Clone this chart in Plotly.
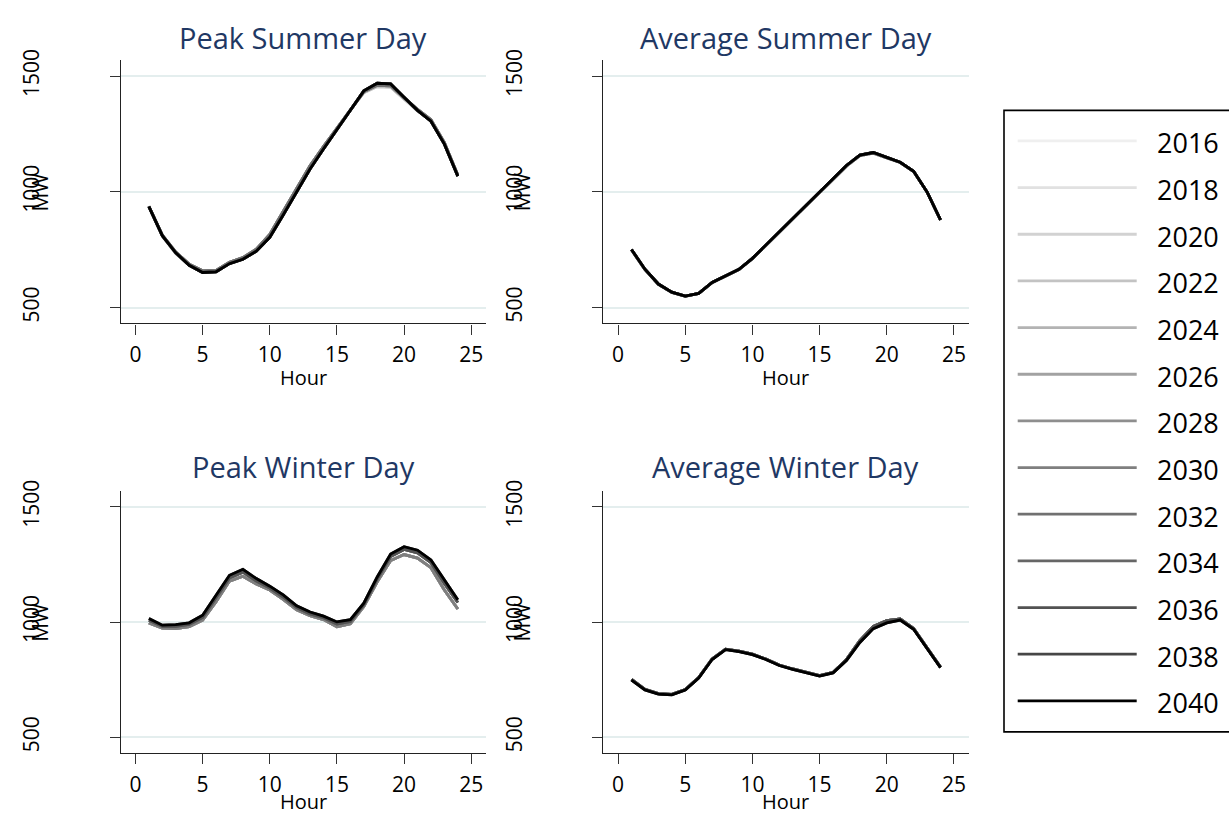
import plotly.graph_objects as go

# ---- data -------------------------------------------------------------
hours = [1, 2, 3, 4, 5, 6, 7, 8, 9, 10, 11, 12,
         13, 14, 15, 16, 17, 18, 19, 20, 21, 22, 23, 24]

years = [2016, 2018, 2020, 2022, 2024, 2026, 2028,
         2030, 2032, 2034, 2036, 2038, 2040]

year_colors = ["#efefef", "#e1e1e1", "#d2d2d2", "#c3c3c3", "#b3b3b3",
               "#a2a2a2", "#8e8e8e", "#7f7f7f", "#707070", "#666666",
               "#525252", "#464646", "#000000"]

panel_titles = ["Peak Summer Day", "Average Summer Day",
                "Peak Winter Day", "Average Winter Day"]

y_ticks = [500, 1000, 1500]
x_ticks = [0, 5, 10, 15, 20, 25]

# Peak summer day load (MW)
peak_summer_early = [934, 808, 734, 684, 655, 658, 693, 713, 750, 812, 910, 1012,
                     1110, 1193, 1273, 1354, 1428, 1455, 1452, 1402, 1350, 1306, 1208, 1068]
peak_summer_mid = [938, 813, 740, 688, 659, 661, 696, 716, 753, 816, 916, 1016,
                   1113, 1196, 1276, 1357, 1432, 1460, 1458, 1406, 1356, 1312, 1213, 1073]
peak_summer_late = [936, 811, 737, 683, 652, 655, 690, 709, 744, 804, 900, 1000,
                    1099, 1185, 1267, 1352, 1436, 1469, 1466, 1409, 1352, 1305, 1206, 1068]

# Average summer day load (MW)
avg_summer_early = [749, 664, 601, 566, 549, 561, 608, 637, 665, 712, 769, 826,
                    881, 939, 996, 1052, 1111, 1156, 1167, 1147, 1127, 1088, 999, 878]
avg_summer_late = [751, 666, 602, 567, 550, 562, 609, 638, 666, 713, 770, 827,
                   882, 940, 997, 1054, 1114, 1159, 1170, 1149, 1128, 1089, 1000, 879]

# Peak winter day load (MW)
peak_winter_early = [997, 974, 972, 980, 1009, 1089, 1178, 1199, 1165, 1139, 1099, 1054,
                     1028, 1011, 980, 993, 1068, 1175, 1267, 1293, 1278, 1236, 1139, 1057]
peak_winter_mid = [1008, 982, 982, 990, 1020, 1105, 1192, 1217, 1178, 1148, 1109, 1063,
                   1036, 1019, 992, 1003, 1076, 1188, 1285, 1315, 1300, 1258, 1168, 1085]
peak_winter_late = [1016, 987, 989, 997, 1030, 1118, 1203, 1229, 1189, 1156, 1118, 1071,
                    1044, 1026, 1001, 1011, 1082, 1196, 1295, 1327, 1312, 1270, 1182, 1097]

# Average winter day load (MW)
avg_winter_early = [752, 709, 690, 687, 708, 760, 840, 883, 874, 861, 840, 814,
                    797, 783, 768, 782, 838, 920, 982, 1007, 1014, 972, 888, 805]
avg_winter_late = [749, 706, 688, 685, 706, 758, 838, 881, 872, 859, 838, 812,
                   795, 781, 766, 780, 834, 912, 972, 997, 1009, 969, 886, 803]

# which profile each year follows, per panel
peak_summer_by_year = ["early", "early", "early", "early", "mid", "mid", "mid",
                       "mid", "mid", "late", "late", "late", "late"]
avg_summer_by_year = ["early", "early", "early", "early", "early", "early", "early",
                      "late", "late", "late", "late", "late", "late"]
peak_winter_by_year = ["early", "early", "early", "early", "early", "early", "early",
                       "early", "mid", "mid", "mid", "late", "late"]
avg_winter_by_year = ["early", "early", "early", "early", "early", "early", "early",
                      "early", "early", "early", "early", "late", "late"]

panel_profiles = [
    ({"early": peak_summer_early, "mid": peak_summer_mid, "late": peak_summer_late}, peak_summer_by_year),
    ({"early": avg_summer_early, "late": avg_summer_late}, avg_summer_by_year),
    ({"early": peak_winter_early, "mid": peak_winter_mid, "late": peak_winter_late}, peak_winter_by_year),
    ({"early": avg_winter_early, "late": avg_winter_late}, avg_winter_by_year),
]

# ---- layout geometry (pixels) -----------------------------------------
W, H = 1229, 816
FONT = "Open Sans"
TITLE_COLOR = "#1f3864"
GRID_COLOR = "#e4eeee"

# (left, right, top, bottom) of each plotting area
boxes = [
    (120.7, 486.0, 50.0, 316.7),
    (603.3, 968.7, 50.0, 316.7),
    (120.7, 486.0, 486.7, 752.3),
    (603.3, 968.7, 486.7, 752.3),
]
title_y = [26.7, 26.7, 461.7, 461.7]


def px(x):
    return x / W


def py(y):
    return 1 - y / H


fig = go.Figure()
annotations = []
shapes = []

for p, ((profiles, by_year), (l, r, t, b)) in enumerate(zip(panel_profiles, boxes)):
    xa = "x" if p == 0 else f"x{p + 1}"
    ya = "y" if p == 0 else f"y{p + 1}"
    for yr, col, key in zip(years, year_colors, by_year):
        fig.add_trace(go.Scatter(
            x=hours, y=profiles[key], mode="lines",
            line=dict(color=col, width=2.8),
            name=str(yr), showlegend=False,
            xaxis=xa, yaxis=ya,
        ))

    axis_common = dict(
        showline=True, linecolor="#222222", linewidth=1.3,
        ticks="outside", ticklen=10, tickwidth=1.3, tickcolor="#333333",
        tickfont=dict(family=FONT, size=21, color="#000000"),
        zeroline=False,
    )
    fig.layout[f"xaxis{'' if p == 0 else p + 1}"] = dict(
        domain=[px(l), px(r)], anchor=ya, range=[-1.1, 26.1],
        tickvals=x_ticks, showgrid=False, ticklabelstandoff=2,
        **axis_common,
    )
    fig.layout[f"yaxis{'' if p == 0 else p + 1}"] = dict(
        domain=[py(b), py(t)], anchor=xa, range=[432, 1568],
        tickvals=y_ticks, tickangle=-90, ticklabelstandoff=62,
        showgrid=True, gridcolor=GRID_COLOR, gridwidth=2,
        **axis_common,
    )

    cx = (l + r) / 2
    annotations.append(dict(
        text=panel_titles[p], xref="paper", yref="paper",
        x=px(cx), y=py(title_y[p]), xanchor="center", yanchor="middle",
        showarrow=False, font=dict(family=FONT, size=29, color=TITLE_COLOR),
    ))
    # x-axis title: lower row sits flush with the bottom edge
    if p < 2:
        hour_pos = dict(y=py(b + 55), yanchor="middle")
    else:
        hour_pos = dict(y=0, yanchor="bottom")
    annotations.append(dict(
        text="Hour", xref="paper", yref="paper",
        x=px(cx), xanchor="center", borderpad=0,
        showarrow=False, font=dict(family=FONT, size=20, color="#000000"),
        **hour_pos,
    ))
    annotations.append(dict(
        text="MW", xref="paper", yref="paper", textangle=-90,
        x=px(l - 81), y=py((t + b) / 2), xanchor="center", yanchor="middle",
        showarrow=False, font=dict(family=FONT, size=21, color="#000000"),
    ))

# ---- key (years and shades) -------------------------------------------
key_top, key_bottom, key_left = 100.7, 730.7, 1004.0
shapes.append(dict(
    type="rect", xref="paper", yref="paper",
    x0=px(key_left), x1=px(W + 40), y0=py(key_bottom), y1=py(key_top),
    line=dict(color="#000000", width=1.6), fillcolor="rgba(0,0,0,0)",
))
for i, (yr, col) in enumerate(zip(years, year_colors)):
    ly = 131.7 + 47.3 * i
    shapes.append(dict(
        type="line", xref="paper", yref="paper",
        x0=px(1017.7), x1=px(1136.7), y0=py(ly), y1=py(ly),
        line=dict(color=col, width=2.8),
    ))
    annotations.append(dict(
        text=str(yr), xref="paper", yref="paper",
        x=px(1155), y=py(ly + 2), xanchor="left", yanchor="middle",
        showarrow=False, font=dict(family=FONT, size=27, color="#000000"),
    ))

fig.update_layout(
    width=W, height=H,
    margin=dict(l=0, r=0, t=0, b=0),
    paper_bgcolor="#ffffff", plot_bgcolor="#ffffff",
    showlegend=False,
    annotations=annotations, shapes=shapes,
)

fig.write_html("out.html")
